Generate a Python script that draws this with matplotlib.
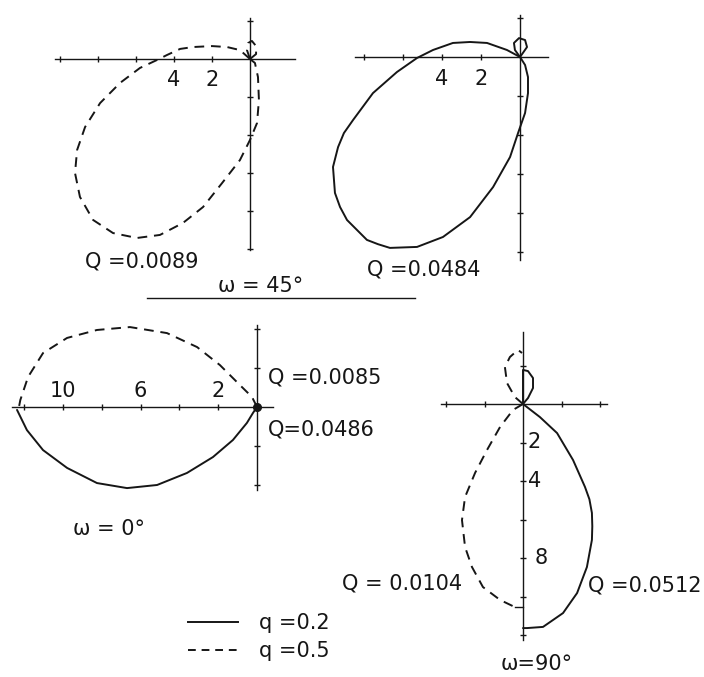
import matplotlib.pyplot as plt
from matplotlib.lines import Line2D

INK = "#161616"

# ---- data (units of the drawn axes, y up) ----
# omega = 45 deg, q = 0.5, Q = 0.0089 (dashed)
p1_loop_x = [0, -0.16, -0.10, 0.10, 0.32, 0.32, 0]
p1_loop_y = [0, 0.47, 0.84, 0.95, 0.68, 0.26, 0]
p1_x = [0, -0.53, -1.21, -2.0, -3.0, -3.68, -4.37, -4.89, -5.79, -6.84, -7.89, -8.68,
        -9.10, -9.21, -8.95, -8.26, -7.21, -5.95, -4.74, -3.53, -2.47, -1.47, -0.53,
        0.0, 0.37, 0.47, 0.42, 0.26, 0]
p1_y = [0, 0.47, 0.63, 0.68, 0.63, 0.53, 0.21, -0.05, -0.47, -1.26, -2.32, -3.58,
        -4.79, -6.0, -7.26, -8.47, -9.16, -9.42, -9.26, -8.63, -7.79, -6.53, -5.32,
        -4.26, -3.37, -2.16, -0.95, -0.21, 0]

# omega = 45 deg, q = 0.2, Q = 0.0484 (solid)
p2_loop_x = [0, -0.26, -0.31, -0.05, 0.26, 0.36, 0.15, 0]
p2_loop_y = [0, 0.36, 0.72, 0.97, 0.87, 0.51, 0.21, 0]
p2_x = [0, -0.67, -1.69, -2.56, -3.44, -4.46, -5.28, -6.31, -7.54, -8.56, -9.03, -9.33,
        -9.59, -9.49, -9.23, -8.87, -7.85, -7.28, -6.67, -5.28, -3.95, -2.56, -1.38,
        -0.51, -0.10, 0.26, 0.41, 0.41, 0.26, 0]
p2_y = [0, 0.36, 0.72, 0.77, 0.72, 0.36, -0.05, -0.77, -1.85, -3.23, -3.90, -4.62,
        -5.64, -6.97, -7.69, -8.36, -9.38, -9.60, -9.79, -9.74, -9.23, -8.21, -6.67,
        -5.13, -3.90, -2.87, -1.85, -1.03, -0.41, 0]

# omega = 0 deg, q = 0.5 (dashed, Q = 0.0085) and q = 0.2 (solid, Q = 0.0486)
p3_dash_x = [0, -0.26, -0.88, -1.91, -3.09, -4.64, -6.55, -8.25, -9.79, -11.03, -11.8, -12.2, -12.27]
p3_dash_y = [0, 0.52, 1.13, 2.16, 3.09, 3.81, 4.12, 3.97, 3.56, 2.78, 1.55, 0.36, 0]
p3_solid_x = [-12.37, -11.86, -11.03, -9.79, -8.25, -6.70, -5.15, -3.61, -2.27, -1.24, -0.52, -0.21, 0]
p3_solid_y = [-0.15, -1.19, -2.22, -3.14, -3.92, -4.18, -4.02, -3.40, -2.58, -1.70, -0.82, -0.31, 0]

# omega = 90 deg, q = 0.5 (dashed, Q = 0.0104) and q = 0.2 (solid, Q = 0.0512)
p4_dash_loop_x = [0, -0.42, -0.83, -0.94, -0.68, -0.26, -0.05]
p4_dash_loop_y = [0, 0.36, 1.09, 1.92, 2.44, 2.81, 2.65]
p4_solid_loop_x = [0, 0.0, 0.0, 0.26, 0.52, 0.52, 0.26, 0]
p4_solid_loop_y = [0, 0.99, 1.77, 1.71, 1.35, 0.83, 0.31, 0]
p4_dash_x = [0, -0.52, -1.19, -1.87, -2.49, -3.01, -3.17, -3.01, -2.65, -2.08, -1.19, -0.42]
p4_dash_y = [0, -0.31, -1.19, -2.39, -3.58, -4.83, -6.03, -7.43, -8.47, -9.51, -10.18, -10.55]
p4_dash_end_x = [-0.42, 0.0]
p4_dash_end_y = [-10.55, -10.55]
p4_solid_x = [0, 0.88, 1.77, 2.60, 3.22, 3.45, 3.58, 3.60, 3.58, 3.32, 2.81, 2.08, 1.04, 0.21, 0.0]
p4_solid_y = [0, -0.68, -1.51, -2.91, -4.31, -4.95, -5.66, -6.35, -7.06, -8.47, -9.82, -10.86, -11.58, -11.64, -11.64]

# axis extents and ticks of each panel
p1_xaxis, p1_yaxis = [-10.25, 2.35], [-10.05, 2.15]
p1_xticks, p1_yticks = [-10, -8, -6, -4, -2], [2, -2, -4, -6, -8, -10]
p2_xaxis, p2_yaxis = [-8.46, 1.44], [-10.4, 2.15]
p2_xticks, p2_yticks = [-8, -6, -4, -2], [2, -2, -4, -6, -8, -10]
p3_xaxis, p3_yaxis = [-12.63, 0.82], [-4.28, 4.23]
p3_xticks, p3_yticks = [-12, -10, -8, -6, -4, -2], [4, 2, -2, -4]
p4_xaxis, p4_yaxis = [-4.26, 4.36], [-12.26, 3.74]
p4_xticks, p4_yticks = [-4, -2, 2, 4], [2, -2, -4, -6, -8, -10, -12]

W, H = 704, 677
FS = 15
plt.rcParams["font.family"] = ["DejaVu Sans"]
fig = plt.figure(figsize=(W / 100, H / 100), dpi=100)
fig.patch.set_facecolor("white")

DASH = (5, 3.5)
LW = 1.4


def make_panel(ox, oy, s, xlim, ylim):
    # ox, oy: origin in pixels (from top-left), s: pixels per unit
    left = ox + xlim[0] * s
    right = ox + xlim[1] * s
    top = oy - ylim[1] * s
    bottom = oy - ylim[0] * s
    ax = fig.add_axes([left / W, 1 - bottom / H, (right - left) / W, (bottom - top) / H])
    ax.set_xlim(*xlim)
    ax.set_ylim(*ylim)
    ax.set_axis_off()
    return ax


def draw_cross(ax, xaxis, yaxis, xticks, yticks):
    ax.plot(xaxis, [0, 0], color=INK, lw=1.0, clip_on=False)
    ax.plot([0, 0], yaxis, color=INK, lw=1.0, clip_on=False)
    ax.plot(xticks, [0] * len(xticks), ls="none", marker="|", ms=5, mew=1.0, color=INK, clip_on=False)
    ax.plot([0] * len(yticks), yticks, ls="none", marker="_", ms=5, mew=1.0, color=INK, clip_on=False)


def curve(ax, x, y, dashed):
    kw = dict(color=INK, lw=LW, solid_joinstyle="round", solid_capstyle="round", clip_on=False)
    if dashed:
        kw["dashes"] = DASH
    return ax.plot(x, y, **kw)[0]


# panel 1: omega = 45, q = 0.5
ax1 = make_panel(250, 59, 19.0, (-10.6, 2.6), (-10.4, 2.4))
draw_cross(ax1, p1_xaxis, p1_yaxis, p1_xticks, p1_yticks)
curve(ax1, p1_loop_x, p1_loop_y, True)
curve(ax1, p1_x, p1_y, True)
for v, lab in [(-4, "4"), (-2, "2")]:
    ax1.text(v, -0.6, lab, ha="center", va="top", fontsize=FS, color=INK)

# panel 2: omega = 45, q = 0.2
ax2 = make_panel(520, 57, 19.5, (-10.0, 1.8), (-10.8, 2.4))
draw_cross(ax2, p2_xaxis, p2_yaxis, p2_xticks, p2_yticks)
curve(ax2, p2_loop_x, p2_loop_y, False)
curve(ax2, p2_x, p2_y, False)
for v, lab in [(-4, "4"), (-2, "2")]:
    ax2.text(v, -0.6, lab, ha="center", va="top", fontsize=FS, color=INK)

# panel 3: omega = 0
ax3 = make_panel(257, 407, 19.4, (-12.9, 1.0), (-4.5, 4.5))
draw_cross(ax3, p3_xaxis, p3_yaxis, p3_xticks, p3_yticks)
curve(ax3, p3_dash_x, p3_dash_y, True)
curve(ax3, p3_solid_x, p3_solid_y, False)
ax3.plot([0], [0], "o", ms=5.5, color=INK, clip_on=False)
for v, lab in [(-10, "10"), (-6, "6"), (-2, "2")]:
    ax3.text(v, 0.3, lab, ha="center", va="bottom", fontsize=FS, color=INK)

# panel 4: omega = 90
ax4 = make_panel(523, 404, 19.25, (-4.5, 4.6), (-12.5, 4.0))
draw_cross(ax4, p4_xaxis, p4_yaxis, p4_xticks, p4_yticks)
curve(ax4, p4_dash_loop_x, p4_dash_loop_y, True)
curve(ax4, p4_solid_loop_x, p4_solid_loop_y, False)
curve(ax4, p4_dash_x, p4_dash_y, True)
ax4.plot(p4_dash_end_x, p4_dash_end_y, color=INK, lw=1.0, clip_on=False)
curve(ax4, p4_solid_x, p4_solid_y, False)
for v, xo, lab in [(-2, 0.25, "2"), (-4, 0.25, "4"), (-8, 0.6, "8")]:
    ax4.text(xo, v, lab, ha="left", va="center", fontsize=FS, color=INK)


def ftext(x, y, s, ha="left"):
    fig.text(x / W, 1 - y / H, s, ha=ha, va="center", fontsize=FS, color=INK)


ftext(85, 262, "Q =0.0089")
ftext(367, 270, "Q =0.0484")
ftext(218, 286, "ω = 45°")
fig.add_artist(Line2D([147 / W, 415 / W], [1 - 298 / H, 1 - 298 / H], color=INK, lw=1.0))
ftext(268, 377, "Q =0.0085")
ftext(268, 429, "Q=0.0486")
ftext(73, 529, "ω = 0°")
ftext(462, 583, "Q = 0.0104", ha="right")
ftext(702, 585, "Q =0.0512", ha="right")
ftext(537, 664, "ω=90°", ha="center")

leg_solid = Line2D([], [], color=INK, lw=LW)
leg_dash = Line2D([], [], color=INK, lw=LW, dashes=(4, 3))
fig.legend([leg_solid, leg_dash], ["q =0.2", "q =0.5"], loc="upper left",
           bbox_to_anchor=(188 / W, 1 - 613 / H), frameon=False, fontsize=FS,
           handlelength=2.4, handletextpad=1.0, labelspacing=0.4,
           borderpad=0, borderaxespad=0, labelcolor=INK)

fig.savefig("out.png", dpi=100)
